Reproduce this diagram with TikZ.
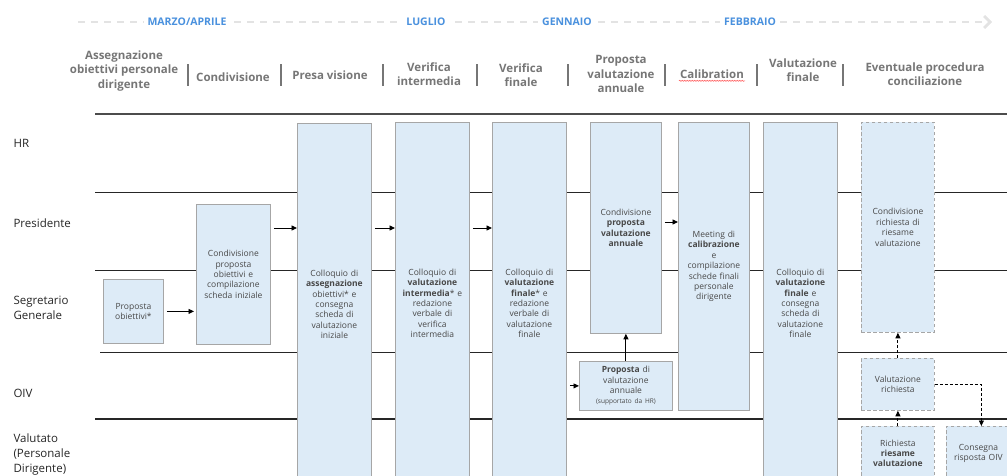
\documentclass[tikz,border=0pt]{standalone}
\usepackage{fontspec}
\setmainfont{Open Sans}
\usepackage{xcolor}
\usepackage{tikz}
\usetikzlibrary{arrows.meta, positioning, decorations.pathmorphing}

\definecolor{boxblue}{RGB}{221,235,247}
\definecolor{boxline}{RGB}{166,166,166}
\definecolor{phasegray}{RGB}{118,118,118}
\definecolor{monthblue}{RGB}{74,145,222}
\definecolor{boxtext}{RGB}{72,72,72}

\begin{document}
\begin{tikzpicture}[
    x=1pt, y=-1pt,
    proc/.style={
      rectangle, draw=boxline, fill=boxblue, line width=0.8pt,
      anchor=north west, inner xsep=0pt, inner ysep=2pt,
      align=center, text=boxtext, font=\fontsize{8.5}{10.4}\selectfont
    },
    optproc/.style={proc, dash pattern=on 3.5pt off 2.5pt},
    sz/.style 2 args={text width=#1, minimum height=#2},
    lane/.style={anchor=west, align=left, text=black!85,
      font=\fontsize{11.5}{15}\selectfont},
    phase/.style={align=center, text=phasegray, inner sep=1pt,
      font=\fontsize{11.5}{14.5}\selectfont\bfseries},
    month/.style={fill=white, inner sep=4pt, text=monthblue,
      font=\fontsize{10.5}{12}\selectfont\bfseries},
    sep/.style={line width=2.6pt, phasegray},
    rule/.style={line width=1pt, black!85},
    arr/.style={-{Triangle[length=5.5pt, width=5pt]}, line width=0.9pt,
      shorten <=3pt},
    darr/.style={arr, dash pattern=on 3pt off 2pt, shorten <=0pt}
  ]

  \useasboundingbox (0,0) rectangle (1007,475);
  \clip (0,0) rectangle (1007,475);

  % Timeline with months
  \draw[line width=2.8pt, black!11, dash pattern=on 7pt off 6pt,
        -{Straight Barb[length=6pt, width=12pt]}] (78,22) -- (992,22);
  \node[month] (marzo) at (187,22) {MARZO/APRILE};
  \node[month] (luglio) at (426,22) {LUGLIO};
  \node[month] (gennaio) at (567,22) {GENNAIO};
  \node[month] (febbraio) at (750,22) {FEBBRAIO};

  % Phase headers
  \node[phase] (hass) at (124,71) {Assegnazione\\obiettivi personale\\dirigente};
  \node[phase] (hcond) at (233,77) {Condivisione};
  \node[phase] (hpresa) at (330,75) {Presa visione};
  \node[phase] (hinterm) at (429,74) {Verifica\\intermedia};
  \node[phase] (hfin) at (521,75) {Verifica\\finale};
  \node[phase] (hprop) at (621,74) {Proposta\\valutazione\\annuale};
  \node[phase] (hcal) at (712,74) {Calibration};
  \node[phase] (hval) at (803,70) {Valutazione\\finale};
  \node[phase] (hconc) at (925,74) {Eventuale procedura\\conciliazione};
  \draw[red!65, line width=0.6pt, decorate,
        decoration={snake, amplitude=0.5pt, segment length=2.5pt}]
    ([yshift=-2.5pt]hcal.base west) -- ([yshift=-2.5pt]hcal.base east);
  \foreach \sx in {188,281,383,477,568,665,757,843}
    \draw[sep] (\sx,64) -- (\sx,86);

  % Swimlanes
  \draw[rule, line width=1.3pt, black!70] (95,114) -- (1007,114);
  \draw[rule] (95,192) -- (1007,192);
  \draw[rule] (95,270) -- (1007,270);
  \draw[rule] (100,352) -- (1007,352);
  \draw[rule, line width=1.3pt] (95,419) -- (1007,419);

  \node[lane] (hr) at (10,143) {HR};
  \node[lane] (pres) at (10,223) {Presidente};
  \node[lane] (segr) at (10,308) {Segretario\\Generale};
  \node[lane] (oiv) at (10,393) {OIV};
  \node[lane] (valut) at (10,455) {Valutato\\(Personale\\Dirigente)};

  % Process boxes
  \node[proc, sz={60pt}{64pt}] (propob) at (103,279) {Proposta\\obiettivi*};
  \node[proc, sz={74pt}{140pt}] (condob) at (196,204)
    {Condivisione\\proposta\\obiettivi e\\compilazione\\scheda iniziale};
  \node[proc, sz={74pt}{362pt}] (assegn) at (297,123)
    {Colloquio di\\\textbf{assegnazione}\\obiettivi* e\\consegna\\scheda di\\valutazione\\iniziale};
  \node[proc, sz={74pt}{362pt}] (interm) at (395,122)
    {Colloquio di\\\textbf{valutazione}\\\textbf{intermedia}* e\\redazione\\verbale di\\verifica\\intermedia};
  \node[proc, sz={74pt}{362pt}] (finale) at (492,122)
    {Colloquio di\\\textbf{valutazione}\\\textbf{finale}* e\\redazione\\verbale di\\valutazione\\finale};
  \node[proc, sz={71pt}{211pt}] (condval) at (590,122)
    {Condivisione\\\textbf{proposta}\\\textbf{valutazione}\\\textbf{annuale}};
  \node[proc, sz={93pt}{49pt}] (propval) at (579,361)
    {\textbf{Proposta} di\\valutazione\\annuale\\{\fontsize{6.5}{8}\selectfont(supportato da HR)}};
  \node[proc, sz={71pt}{288pt}] (calib) at (678,122)
    {Meeting di\\\textbf{calibrazione}\\e\\compilazione\\schede finali\\personale\\dirigente};
  \node[proc, sz={74pt}{362pt}] (valfin) at (763,122)
    {Colloquio di\\\textbf{valutazione}\\\textbf{finale} e\\consegna\\scheda di\\valutazione\\finale};

  % Optional review (dashed)
  \node[optproc, sz={73pt}{210pt}] (condric) at (861,122)
    {Condivisione\\richiesta di\\riesame\\valutazione};
  \node[optproc, sz={73pt}{52pt}] (valric) at (861,358)
    {Valutazione\\richiesta};
  \node[optproc, sz={73pt}{54pt}] (richries) at (861,426)
    {Richiesta\\\textbf{riesame}\\\textbf{valutazione}};
  \node[optproc, sz={64pt}{54pt}] (consoiv) at (946,426)
    {Consegna\\risposta OIV};

  % Flow
  \coordinate (rowa) at (0,228);
  \coordinate (rowb) at (0,222);
  \draw[arr, shorten >=2pt] (propob.east) -- (propob.east -| condob.west);
  \draw[arr] (condob.east |- rowa) -- (assegn.west |- rowa);
  \draw[arr] (assegn.east |- rowa) -- (interm.west |- rowa);
  \draw[arr] (interm.east |- rowa) -- (finale.west |- rowa);
  \draw[arr] (finale.east |- propval.west) -- (propval.west);
  \draw[arr, shorten <=0pt] (propval.north) -- (condval.south);
  \draw[arr] (condval.east |- rowb) -- (calib.west |- rowb);

  \draw[darr] (richries.north) -- (valric.south);
  \draw[darr] (valric.north) -- (condric.south);
  \draw[darr] (valric.east) -| ([xshift=3pt]consoiv.north);

\end{tikzpicture}
\end{document}
